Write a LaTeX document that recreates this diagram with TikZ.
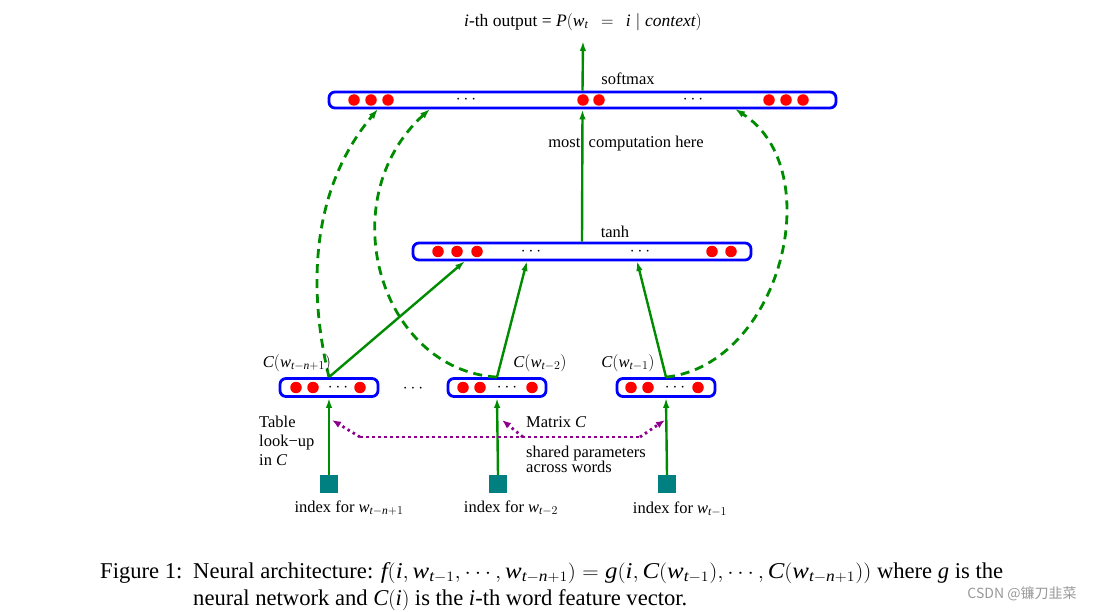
\documentclass[tikz,border=0pt]{standalone}
\usepackage{graphicx}
\usepackage{fontspec}
\setmainfont{Liberation Serif}
\newfontfamily\cjk{Noto Sans CJK SC}
\usetikzlibrary{arrows.meta,calc}
\definecolor{dgreen}{RGB}{0,140,0}
\definecolor{vblue}{RGB}{0,0,255}
\definecolor{purp}{RGB}{140,0,140}
\definecolor{tealsq}{RGB}{0,128,128}
\newcommand\mI[1]{\mathit{#1}}
\tikzset{
 vec/.style={draw=vblue, line width=2.8pt, rounded corners=6pt, inner sep=0pt},
 rdot/.style={circle, fill=red, inner sep=0pt, minimum size=11.5pt},
 gar/.style={draw=dgreen, line width=2.4pt, -{Latex[length=10pt,width=6.5pt]}},
 gdash/.style={draw=dgreen, line width=2.8pt, dash pattern=on 9pt off 6pt, -{Latex[length=10pt,width=7pt]}},
 pdot/.style={draw=purp, line width=2.8pt, dash pattern=on 2.5pt off 3.5pt},
 pdotar/.style={pdot, -{Latex[length=9pt,width=7pt]}},
 idx/.style={fill=tealsq, minimum size=18pt, inner sep=0pt},
 lbl/.style={font=\fontsize{16.5}{19}\selectfont, inner sep=0pt},
 captxt/.style={font=\fontsize{22.6}{27}\selectfont, inner sep=0pt, anchor=base west},
}
\begin{document}
\begin{tikzpicture}[x=1pt,y=-1pt]
\path[use as bounding box, fill=white] (0,0) rectangle (1106,612);

% vector boxes
\node[vec, minimum width=507pt, minimum height=16pt] (soft) at (582.5,100) {};
\node[vec, minimum width=338pt, minimum height=17pt] (tanh) at (582,251.5) {};
\node[vec, minimum width=98pt, minimum height=18pt] (b1) at (329,387.5) {};
\node[vec, minimum width=98pt, minimum height=18pt] (b2) at (497,387.5) {};
\node[vec, minimum width=98pt, minimum height=18pt] (b3) at (666,387.5) {};

% red dots
\foreach \x in {354,371,388,583,599,769,786,803} \node[rdot] at (\x,100) {};
\foreach \x in {438,457,477,712,731} \node[rdot] at (\x,251.5) {};
\foreach \x in {296,313,360, 463,480,532, 631,648,698} \node[rdot] at (\x,387.5) {};
% ellipses
\foreach \x/\y in {466/100, 693/100, 531/251.5, 640/251.5, 338/387.5, 507/387.5, 675/387.5, 413/389}
  \node[lbl] at (\x,\y) {$\cdots$};

% index squares
\node[idx] (s1) at (329,484) {};
\node[idx] (s2) at (498,484) {};
\node[idx] (s3) at (667,484) {};

% output
\node[lbl, font=\fontsize{17.5}{20}\selectfont] (out) at (583,22) {\textit{i}-th output = $\mI{P}(\mI{w}_{\mI{t}}\;\,=\;\,\mI{i}\;|\;\mI{context})$};
\coordinate (outtip) at (583,41);
\draw[gar] (soft.north) -- (outtip);
\node[lbl] at (628,79) {softmax};
\node[lbl] at (615,232) {tanh};
\draw[gar] (tanh.north) -- (soft.south);
\node[lbl] at (626,144) {most\ \ computation here};

% hidden inputs
\coordinate (m1) at (465,261);
\coordinate (m2) at (527,261);
\coordinate (m3) at (637,261);
\draw[gar] (b1.north) -- (m1);
\draw[gar] (b2.north) -- (m2);
\draw[gar] (b3.north) -- (m3);

% direct connections (dashed)
\coordinate (t1) at (378,109);
\coordinate (t2) at (430,109);
\coordinate (t3) at (735,109);
\draw[gdash] (b1.north) .. controls (308,290) and (310,190) .. (t1);
\draw[gdash] (b2.north) .. controls (380,370) and (330,200) .. (t2);
\draw[gdash] (b3.north) .. controls (780,365) and (830,170) .. (t3);

% lookups
\draw[gar] (s1.north) -- (b1.south);
\draw[gar] (s2.north) -- (b2.south);
\draw[gar] (s3.north) -- (b3.south);

% labels of word vectors
\node[lbl] at (297,363) {$\mI{C}(\mI{w}_{\mI{t}-\mI{n}+1})$};
\node[lbl] at (540,363) {$\mI{C}(\mI{w}_{\mI{t}-2})$};
\node[lbl] at (628,363) {$\mI{C}(\mI{w}_{\mI{t}-1})$};

% shared matrix
\coordinate (pl) at (360,437);
\coordinate (pm) at (523,437);
\coordinate (pr) at (640,437);
\coordinate (al) at (332,420);
\coordinate (am) at (502,420);
\coordinate (ar) at (665,420);
\draw[pdot] (pl) -- (pr);
\draw[pdotar] (pl) -- (al);
\draw[pdotar] (pm) -- (am);
\draw[pdotar] (pr) -- (ar);

\node[lbl, anchor=west, align=left, font=\fontsize{16.5}{19}\selectfont] at (259,441) {Table\\ look\textminus up\\ in $\mI{C}$};
\node[lbl, anchor=west] at (526,422) {Matrix $\mI{C}$};
\node[lbl, anchor=west, align=left, font=\fontsize{16.5}{15}\selectfont] at (526,459.5) {shared parameters\\across words};

\node[lbl] at (349,508) {index for $\mI{w}_{\mI{t}-\mI{n}+1}$};
\node[lbl] at (511,508) {index for $\mI{w}_{\mI{t}-2}$};
\node[lbl] at (680,509) {index for $\mI{w}_{\mI{t}-1}$};

% caption
\node[captxt] at (100,578) {Figure 1:};
\node[captxt] at (193,578) {Neural architecture: \scalebox{1.1}[1]{$\mI{f}(\mI{i},\mI{w}_{\mI{t}-1},\cdots,\mI{w}_{\mI{t}-\mI{n}+1})=\mI{g}(\mI{i},\mI{C}(\mI{w}_{\mI{t}-1}),\cdots,\mI{C}(\mI{w}_{\mI{t}-\mI{n}+1}))$} where $\mI{g}$ is the};
\node[captxt] at (193,605) {neural network and $\mI{C}(\mI{i})$ is the \textit{i}-th word feature vector.};
\node[inner sep=0pt, text=black!40, font=\cjk\fontsize{14}{16}\selectfont] at (1022,594) {CSDN @镰刀韭菜};
\end{tikzpicture}
\end{document}
